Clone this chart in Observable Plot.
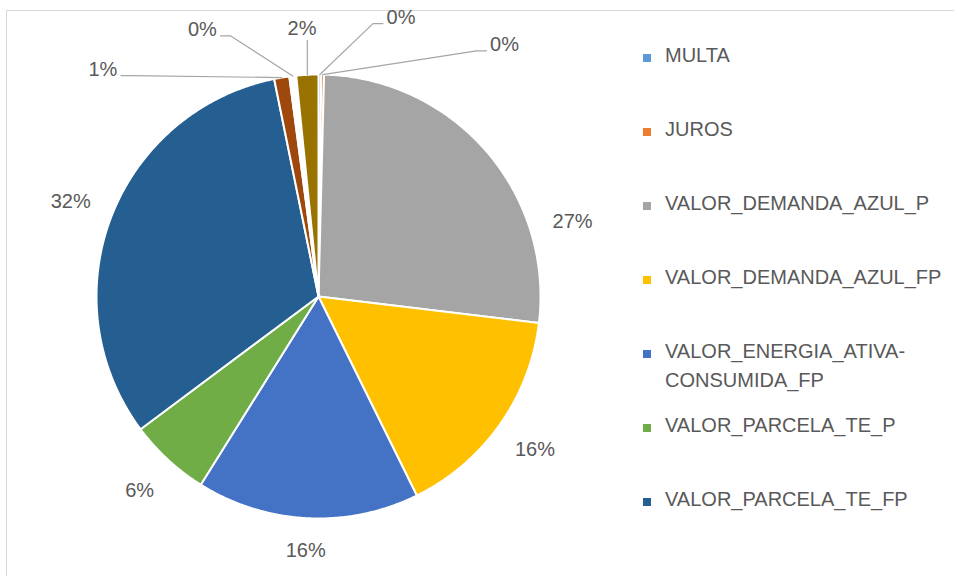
<!DOCTYPE html>
<html>
<head>
<meta charset="utf-8">
<script src="https://cdn.jsdelivr.net/npm/d3@7"></script>
<script src="https://cdn.jsdelivr.net/npm/@observablehq/plot@0.6"></script>
<style>
  html, body { margin: 0; padding: 0; background: #fff; }
  #wrap { position: relative; width: 954px; height: 576px; overflow: hidden; background: #fff; font-family: "Liberation Sans", Arial, sans-serif; }
  #frame { position: absolute; left: 6px; top: 10px; width: 1000px; height: 700px; border-left: 1px solid #d9d9d9; border-top: 1px solid #d9d9d9; }
  #chart { position: absolute; left: 0; top: 0; }
  .lg { position: absolute; left: 643px; width: 300px; }
  .lg .sw { position: absolute; left: 0; width: 8px; height: 8px; }
  .lg .tx { position: absolute; left: 22px; width: 285px; font-size: 20px; line-height: 29px; color: #595959; white-space: normal; }
</style>
</head>
<body>
<div id="wrap">
  <div id="frame"></div>
  <div id="chart"></div>
</div>
<script>
// ---- data ----
const categories = [
  "MULTA",
  "JUROS",
  "VALOR_DEMANDA_AZUL_P",
  "VALOR_DEMANDA_AZUL_FP",
  "VALOR_ENERGIA_ATIVA-CONSUMIDA_FP",
  "VALOR_PARCELA_TE_P",
  "VALOR_PARCELA_TE_FP",
  "Série 8",
  "Série 9",
  "Série 10"
];
const values = [0.2, 0.2, 26.5, 15.8, 16.2, 5.9, 32.0, 1.1, 0.5, 1.6];
const pctLabels = ["0%", "0%", "27%", "16%", "16%", "6%", "32%", "1%", "0%", "2%"];
const colors = ["#5B9BD5", "#ED7D31", "#A5A5A5", "#FFC000", "#4472C4", "#70AD47", "#255E91", "#9E480E", "#ffffff", "#997300"];
const legendCount = 7;

// ---- layout ----
const PX = 222;            // pixels per unit radius
const cx = 318, cy = 296;  // pie centre in pixels
const TAU = Math.PI * 2;
const deg = Math.PI / 180;

const total = d3.sum(values);
let acc = 0;
const slices = categories.map((key, i) => {
  const a0 = acc / total * TAU;
  acc += values[i];
  const a1 = acc / total * TAU;
  return {key, i, a0, a1, mid: (a0 + a1) / 2, value: values[i] / total * 100, label: pctLabels[i]};
});

// slice polygons (angle clockwise from 12 o'clock, y up)
const polyPts = slices.flatMap(s => {
  const n = Math.max(2, Math.ceil((s.a1 - s.a0) / (0.5 * deg)));
  const pts = [{key: s.key, x: 0, y: 0}];
  for (let k = 0; k <= n; k++) {
    const a = s.a0 + (s.a1 - s.a0) * k / n;
    pts.push({key: s.key, x: Math.sin(a), y: Math.cos(a)});
  }
  pts.push({key: s.key, x: 0, y: 0});
  return pts;
});

// labels
const unwrap = a => (a > Math.PI ? a - TAU : a);
const small = slices.filter(s => s.value < 3).sort((a, b) => unwrap(a.mid) - unwrap(b.mid));
const midK = (small.length - 1) / 2;
const centre = d3.mean(small, s => unwrap(s.mid));
const labels = [];
const leaders = [];
small.forEach((s, k) => {
  const off = k - midK;
  const ang = centre + off * 20 * deg;
  const r = 1.21 + 0.1 * Math.abs(off);
  const lx = r * Math.sin(ang), ly = r * Math.cos(ang);
  s.labelAngle = ang;
  labels.push({key: s.key, x: lx, y: ly, text: s.label});
  const ax = Math.sin(s.mid), ay = Math.cos(s.mid);
  const dxpx = (lx - ax) * PX;
  if (Math.abs(dxpx) < 25) {
    leaders.push({key: s.key, x: ax, y: ay}, {key: s.key, x: ax, y: ly - 12 / PX});
  } else {
    const sgn = lx < ax ? 1 : -1;
    leaders.push(
      {key: s.key, x: ax, y: ay},
      {key: s.key, x: lx + sgn * 28 / PX, y: ly - 6 / PX},
      {key: s.key, x: lx + sgn * 18 / PX, y: ly - 6 / PX}
    );
  }
});
const lastSmall = d3.max(small, s => s.labelAngle);
const minGap = 37 * deg;
const gapPx = 21, halfW = 20, halfH = 10;
slices.filter(s => s.value >= 3).forEach(s => {
  let ang = s.mid;
  let d = ang - lastSmall;
  if (d >= 0 && d < minGap) ang = lastSmall + minGap;
  const ext = Math.abs(Math.sin(ang)) * halfW + Math.abs(Math.cos(ang)) * halfH;
  const r = (PX + gapPx + ext) / PX;
  labels.push({key: s.key, x: r * Math.sin(ang), y: r * Math.cos(ang), text: s.label});
});

const chart = Plot.plot({
  width: 954,
  height: 576,
  margin: 0,
  style: {background: "transparent", overflow: "visible"},
  x: {domain: [-1, 1], range: [cx - PX, cx + PX], axis: null},
  y: {domain: [-1, 1], range: [cy + PX, cy - PX], axis: null},
  color: {domain: categories, range: colors},
  marks: [
    Plot.line(polyPts, {x: "x", y: "y", z: "key", fill: "key", stroke: "white", strokeWidth: 2, strokeLinejoin: "round", curve: "linear"}),
    Plot.line(leaders, {x: "x", y: "y", z: "key", stroke: "#a6a6a6", strokeWidth: 1.2, curve: "linear"}),
    Plot.text(labels, {x: "x", y: "y", text: "text", fill: "#595959", fontSize: 20, fontFamily: "Liberation Sans, Arial, sans-serif"})
  ]
});
document.getElementById("chart").appendChild(chart);

// legend (first entries only, as in the reference)
const wrap = document.getElementById("wrap");
categories.slice(0, legendCount).forEach((c, i) => {
  const capCentre = 55 + 74 * i;
  const item = document.createElement("div");
  item.className = "lg";
  item.style.top = (capCentre - 14) + "px";
  const sw = document.createElement("div");
  sw.className = "sw";
  sw.style.background = colors[i];
  sw.style.top = (14 + 3 - 4) + "px";
  const tx = document.createElement("div");
  tx.className = "tx";
  tx.textContent = c;
  item.appendChild(sw);
  item.appendChild(tx);
  wrap.appendChild(item);
});
</script>
</body>
</html>
